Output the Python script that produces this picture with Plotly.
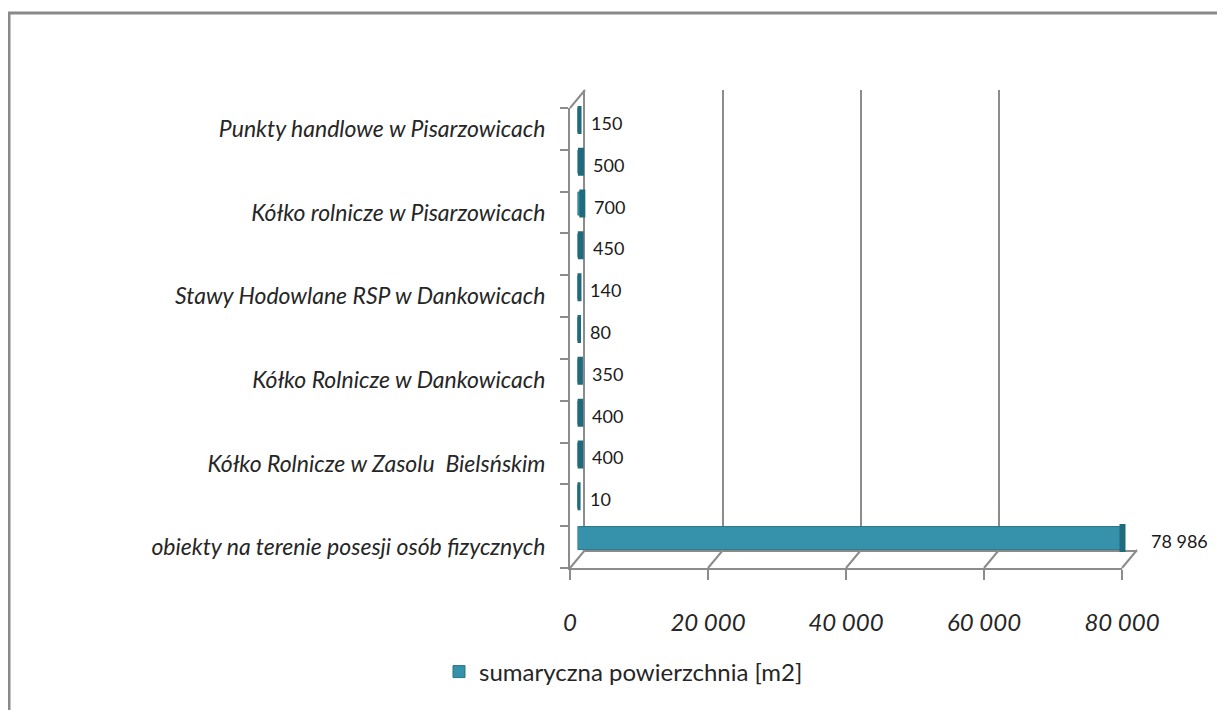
import plotly.graph_objects as go

# categories bottom -> top (only every other one carries a label on the axis)
categories = [
    "obiekty na terenie posesji osób fizycznych",
    "",
    "Kółko Rolnicze w Zasolu  Bielsńskim",
    "",
    "Kółko Rolnicze w Dankowicach",
    "",
    "Stawy Hodowlane RSP w Dankowicach",
    "",
    "Kółko rolnicze w Pisarzowicach",
    "",
    "Punkty handlowe w Pisarzowicach",
]
values = [78986, 10, 400, 400, 350, 80, 140, 450, 700, 500, 150]
x_ticks = [0, 20000, 40000, 60000, 80000]
series_name = "sumaryczna powierzchnia [m2]"

# page body adds 8px, so the figure is a bit smaller than the window
W, H = 1209, 702
M_L, M_R, M_T, M_B = 562, 80, 82, 142
PW = W - M_L - M_R
PH = H - M_T - M_B
DX, DY = 15, 18  # pseudo-3D depth offset (px)

# front plane (axis labels), back wall (grid), middle (bars)
dom_front_x = [0, (PW - DX) / PW]
dom_front_y = [0, (PH - DY) / PH]
dom_back_x = [DX / PW, 1]
dom_back_y = [DY / PH, 1]
dom_mid_x = [DX / 2 / PW, (PW - DX / 2) / PW]
dom_mid_y = [DY / 2 / PH, (PH - DY / 2) / PH]

X_MAX = 80000
Y_RANGE = [-0.5, len(values) - 0.5]

_GRID = "#8c8c8c"
_BAR = "#3592aa"
_BAR_EDGE = "#2a7488"
_CAP = "#1f6a7d"
_FONT = "Lato"
_TEXT = "#262626"

idx = list(range(len(values)))


def px_x(fig_px: float) -> float:
    return (fig_px - M_L) / PW


def px_y(fig_px: float) -> float:
    return (M_T + PH - fig_px) / PH


fig = go.Figure()
# invisible copies so that the back wall and the front plane get drawn
for xa, ya in (("x", "y"), ("x2", "y2")):
    fig.add_trace(
        go.Bar(
            x=values, y=idx, orientation="h", xaxis=xa, yaxis=ya,
            marker={"opacity": 0}, showlegend=False, hoverinfo="skip",
        )
    )
fig.add_trace(
    go.Bar(
        x=values,
        y=idx,
        orientation="h",
        xaxis="x3",
        yaxis="y3",
        width=0.55,
        marker={"color": _BAR, "line": {"color": _BAR_EDGE, "width": 1}},
        name=series_name,
        showlegend=True,
    )
)
# cylinder end caps
fig.add_trace(
    go.Scatter(
        x=values,
        y=idx,
        xaxis="x3",
        yaxis="y3",
        mode="markers",
        marker={"symbol": "line-ns", "size": 20, "line": {"width": 6, "color": _CAP}},
        showlegend=False,
        hoverinfo="skip",
    )
)

for v, i in zip(values, idx):
    fig.add_annotation(
        x=v,
        y=i,
        xref="x3",
        yref="y3",
        text=f"{v:,}".replace(",", " "),
        showarrow=False,
        xanchor="left",
        yshift=-3,
        xshift=26 if v > X_MAX / 2 else 10,
        font={"family": _FONT, "size": 18, "color": "#1a1a1a"},
    )

# floor diagonals and top-left wall edge
for v in x_ticks:
    fx = dom_front_x[0] + v / X_MAX * (dom_front_x[1] - dom_front_x[0])
    bx = dom_back_x[0] + v / X_MAX * (dom_back_x[1] - dom_back_x[0])
    fig.add_shape(
        type="line", xref="paper", yref="paper",
        x0=fx, y0=dom_front_y[0], x1=bx, y1=dom_back_y[0],
        line={"color": _GRID, "width": 2},
    )
fig.add_shape(
    type="line", xref="paper", yref="paper",
    x0=dom_front_x[0], y0=dom_front_y[1], x1=dom_back_x[0], y1=dom_back_y[1],
    line={"color": _GRID, "width": 2},
)
# outer frame
fig.add_shape(
    type="rect", xref="paper", yref="paper",
    x0=px_x(1), x1=px_x(W + 20), y0=px_y(H + 20), y1=px_y(5),
    line={"color": "#8a8a8a", "width": 3},
    layer="below",
)

_hidden = {
    "showgrid": False, "showticklabels": False, "ticks": "", "zeroline": False,
    "showline": False, "fixedrange": True,
}

fig.update_layout(
    width=W,
    height=H,
    margin={"l": M_L, "r": M_R, "t": M_T, "b": M_B, "pad": 0},
    paper_bgcolor="white",
    plot_bgcolor="rgba(0,0,0,0)",
    separators=", ",
    font={"family": _FONT, "color": _TEXT},
    legend={
        "orientation": "h",
        "x": px_x(431),
        "xanchor": "left",
        "y": px_y(664),
        "yanchor": "middle",
        "font": {"family": _FONT, "size": 24, "color": _TEXT},
    },
    # back wall
    xaxis={
        "domain": dom_back_x,
        "range": [0, X_MAX],
        "tickvals": x_ticks,
        "showgrid": True,
        "gridcolor": _GRID,
        "gridwidth": 2,
        "showticklabels": False,
        "ticks": "",
        "zeroline": False,
        "showline": True,
        "linecolor": _GRID,
        "linewidth": 2,
        "anchor": "y",
        "fixedrange": True,
    },
    yaxis={
        "domain": dom_back_y,
        "range": Y_RANGE,
        "showgrid": False,
        "showticklabels": False,
        "ticks": "",
        "zeroline": False,
        "showline": True,
        "linecolor": _GRID,
        "linewidth": 2,
        "anchor": "x",
        "fixedrange": True,
    },
    # front plane
    xaxis2={
        "domain": dom_front_x,
        "range": [0, X_MAX],
        "tickvals": x_ticks,
        "tickformat": ",d",
        "showgrid": False,
        "zeroline": False,
        "showline": True,
        "linecolor": _GRID,
        "linewidth": 2,
        "ticks": "outside",
        "ticklen": 10,
        "tickwidth": 2,
        "tickcolor": _GRID,
        "ticklabelstandoff": 22,
        "tickfont": {"family": _FONT, "size": 24, "style": "italic", "color": _TEXT},
        "anchor": "y2",
        "fixedrange": True,
    },
    yaxis2={
        "domain": dom_front_y,
        "range": Y_RANGE,
        "tickvals": idx[::2],
        "ticktext": categories[::2],
        "ticks": "",
        "minor": {"tick0": -0.5, "dtick": 1, "ticks": "outside", "ticklen": 8,
                  "tickwidth": 2, "tickcolor": _GRID, "showgrid": False},
        "showgrid": False,
        "zeroline": False,
        "showline": True,
        "linecolor": _GRID,
        "linewidth": 2,
        "ticklabelstandoff": 18,
        "tickfont": {"family": _FONT, "size": 23, "style": "italic", "color": _TEXT},
        "anchor": "x2",
        "fixedrange": True,
    },
    # middle depth, carries the bars
    xaxis3={**_hidden, "domain": dom_mid_x, "range": [0, X_MAX], "anchor": "y3"},
    yaxis3={**_hidden, "domain": dom_mid_y, "range": Y_RANGE, "anchor": "x3"},
)

fig.write_html("out.html")
